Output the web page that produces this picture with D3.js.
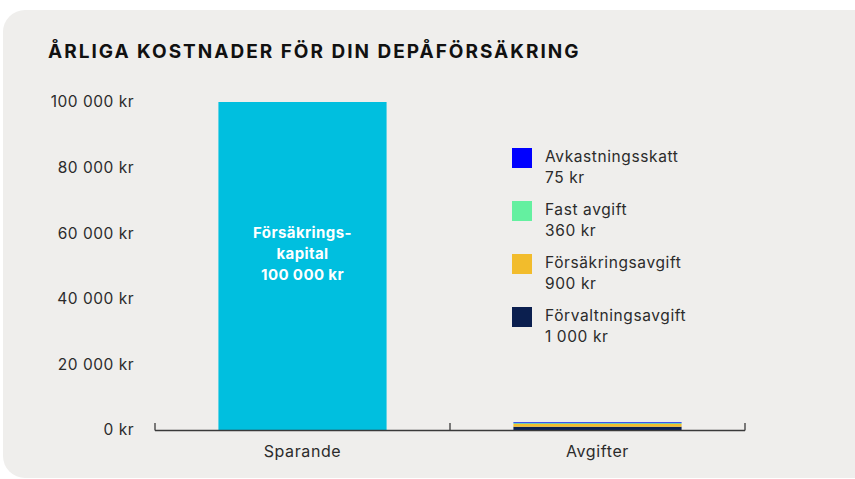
<!DOCTYPE html>
<html>
<head>
<meta charset="utf-8">
<script src="https://cdn.jsdelivr.net/npm/d3@7"></script>
<style>
  html, body { margin: 0; padding: 0; background: #ffffff; }
  svg { display: block; }
  text { font-family: Inter, "Noto Sans", sans-serif; }
</style>
</head>
<body>
<svg id="chart" width="855" height="479"></svg>
<script>
const title = "ÅRLIGA KOSTNADER FÖR DIN DEPÅFÖRSÄKRING";
const categories = ["Sparande", "Avgifter"];
const seriesNames = ["Förvaltningsavgift", "Försäkringsavgift", "Fast avgift", "Avkastningsskatt"];
const seriesColors = ["#0b1f4f", "#f2bc2c", "#64f0a0", "#0000ff"];
const capitalValues = [100000, 0];
const feeValues = [1000, 900, 360, 75];
const feeLabels = ["1 000 kr", "900 kr", "360 kr", "75 kr"];
const yTicks = [0, 20000, 40000, 60000, 80000, 100000];
const barLabelLines = ["Försäkrings-", "kapital", "100 000 kr"];

const svg = d3.select("#chart");

// panel
svg.append("rect").attr("x", 3).attr("y", 10).attr("width", 880).attr("height", 468)
  .attr("rx", 22).attr("fill", "#efeeec");

svg.append("text").attr("x", 48).attr("y", 58)
  .attr("font-size", 19).attr("font-weight", 700).attr("letter-spacing", 2)
  .attr("fill", "#111").text(title);

const x = d3.scaleBand().domain(categories).range([155, 745]).paddingInner(0.43).paddingOuter(0.215);
const y = d3.scaleLinear().domain([0, 100000]).range([430, 102]);

const txt = "#2b2b2b";
// y tick labels
const fmt = v => d3.format(",")(v).replace(/,/g, " ") + " kr";
svg.append("g").selectAll("text").data(yTicks).join("text")
  .attr("x", 134).attr("y", d => y(d)).attr("dy", "0.35em")
  .attr("text-anchor", "end").attr("font-size", 15.5).attr("letter-spacing", 0.5).attr("fill", txt)
  .text(fmt);

// capital bar
svg.append("rect")
  .attr("x", x("Sparande")).attr("width", x.bandwidth())
  .attr("y", y(capitalValues[0])).attr("height", y(0) - y(capitalValues[0]))
  .attr("fill", "#00bfdf");

const cx = x("Sparande") + x.bandwidth() / 2;
svg.append("g").selectAll("text").data(barLabelLines).join("text")
  .attr("x", cx).attr("y", (d, i) => 238 + i * 21)
  .attr("text-anchor", "middle").attr("font-size", 15).attr("font-weight", 700).attr("letter-spacing", 0.4)
  .attr("fill", "#ffffff").text(d => d);

// stacked fees
const stackData = [Object.fromEntries(seriesNames.map((n, i) => [n, feeValues[i]]))];
const stack = d3.stack().keys(seriesNames)(stackData);
svg.append("g").selectAll("rect").data(stack).join("rect")
  .attr("x", x("Avgifter")).attr("width", x.bandwidth())
  .attr("y", d => y(d[0][1])).attr("height", d => Math.max(y(d[0][0]) - y(d[0][1]), 0.8))
  .attr("fill", (d, i) => seriesColors[i]);

// x axis
const xAxis = svg.append("g").attr("transform", "translate(0,430)");
xAxis.append("line").attr("x1", 155).attr("x2", 745).attr("y1", 0.5).attr("y2", 0.5)
  .attr("stroke", "#3a3a3a").attr("stroke-width", 1.3);
xAxis.selectAll("line.t").data([155, 155 + x.step() * 1 + 0, 745]).join("line").attr("class", "t")
  .attr("x1", d => d).attr("x2", d => d).attr("y1", 0.5).attr("y2", -7)
  .attr("stroke", "#3a3a3a").attr("stroke-width", 1.3);
xAxis.selectAll("text").data(categories).join("text")
  .attr("x", d => x(d) + x.bandwidth() / 2).attr("y", 27)
  .attr("text-anchor", "middle").attr("font-size", 16).attr("letter-spacing", 0.6).attr("fill", txt)
  .text(d => d);

// legend
const legendOrder = [3, 2, 1, 0];
const lg = svg.append("g").selectAll("g").data(legendOrder).join("g")
  .attr("transform", (d, i) => `translate(512,${148 + i * 53})`);
lg.append("rect").attr("width", 20).attr("height", 20).attr("fill", d => seriesColors[d]);
lg.append("text").attr("x", 33).attr("y", 14).attr("font-size", 15.5).attr("letter-spacing", 0.6).attr("fill", txt)
  .text(d => seriesNames[d]);
lg.append("text").attr("x", 33).attr("y", 35).attr("font-size", 15.5).attr("letter-spacing", 0.6).attr("fill", txt)
  .text(d => feeLabels[d]);
</script>
</body>
</html>
